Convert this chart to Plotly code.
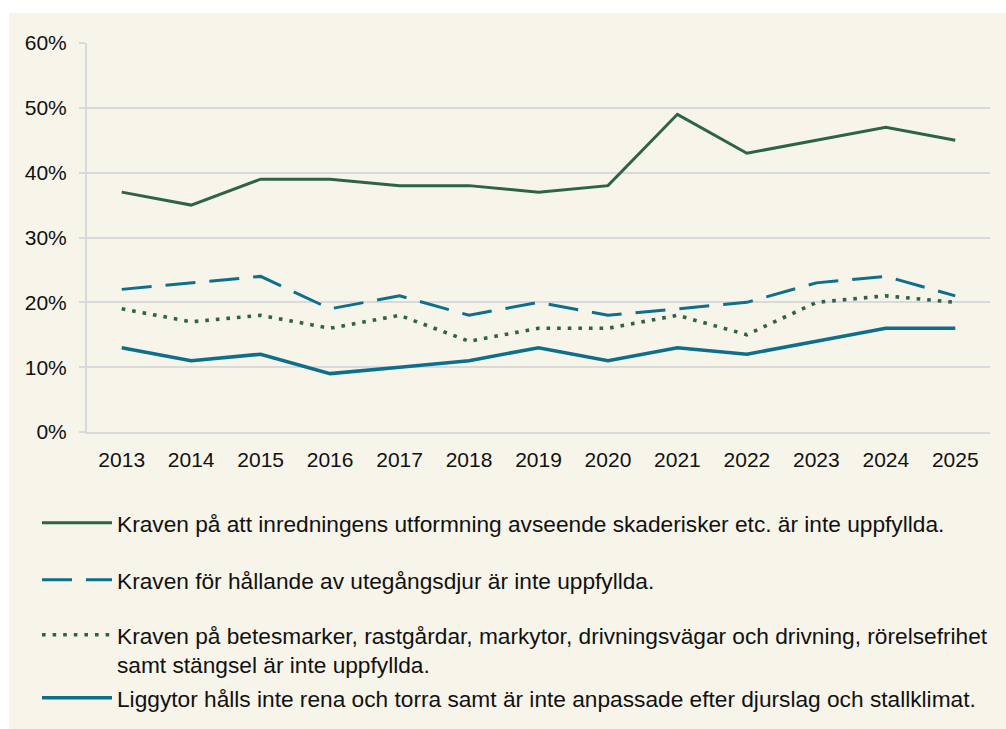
import plotly.graph_objects as go

# Share of inspected holdings (%) with each deficiency, per year
years = [str(y) for y in range(2013, 2026)]
inredning = [37, 35, 39, 39, 38, 38, 37, 38, 49, 43, 45, 47, 45]
utegang = [22, 23, 24, 19, 21, 18, 20, 18, 19, 20, 23, 24, 21]
betesmark = [19, 17, 18, 16, 18, 14, 16, 16, 18, 15, 20, 21, 20]
liggytor = [13, 11, 12, 9, 10, 11, 13, 11, 13, 12, 14, 16, 16]

series_names = [
    "Kraven på att inredningens utformning avseende skaderisker etc. är inte uppfyllda.",
    "Kraven för hållande av utegångsdjur är inte uppfyllda.",
    "Kraven på betesmarker, rastgårdar, markytor, drivningsvägar och drivning, rörelsefrihet<br>samt stängsel är inte uppfyllda.",
    "Liggytor hålls inte rena och torra samt är inte anpassade efter djurslag och stallklimat.",
]
y_tick_values = [0, 10, 20, 30, 40, 50, 60]
y_tick_labels = ["0%", "10%", "20%", "30%", "40%", "50%", "60%"]

GREEN = "#2e6249"
TEAL = "#0e6f8c"
BEIGE = "#f7f5ea"
GRID = "#d9d9d9"
TEXT = "#111111"
FONT = "Liberation Sans, Arial, sans-serif"

W, H = 1006, 729
L, R, T, B = 87, 16, 43, 296
PW, PH = W - L - R, H - T - B


def px_x(x):
    return (x - L) / PW


def px_y(y):
    return (H - B - y) / PH


styles = [
    dict(color=GREEN, width=3, dash="solid"),
    dict(color=TEAL, width=3, dash="30px,14px"),
    dict(color=GREEN, width=3.6, dash="3.6px,7px"),
    dict(color=TEAL, width=3.6, dash="solid"),
]
data = [inredning, utegang, betesmark, liggytor]
legend_ids = ["legend", "legend2", "legend3", "legend4"]
legend_centers = [523, 580, 650, 698]
legend_valign = ["middle", "middle", "top", "middle"]

fig = go.Figure()
for name, vals, st, lg in zip(series_names, data, styles, legend_ids):
    fig.add_trace(go.Scatter(
        x=years, y=vals, name=name, mode="lines",
        line=st, legend=lg,
    ))

legend_common = dict(
    xanchor="left", x=px_x(37), bgcolor="rgba(0,0,0,0)",
    font=dict(family=FONT, size=22.7, color=TEXT),
    itemwidth=70, borderwidth=0,
)
layout_legends = {}
for lg, cy, va in zip(legend_ids, legend_centers, legend_valign):
    layout_legends[lg] = dict(legend_common, yanchor="middle", y=px_y(cy), valign=va)

fig.update_layout(
    width=W, height=H,
    margin=dict(l=L, r=R, t=T, b=B),
    paper_bgcolor="white",
    plot_bgcolor="rgba(0,0,0,0)",
    font=dict(family=FONT, size=21, color=TEXT),
    showlegend=True,
    shapes=[dict(
        type="rect", xref="paper", yref="paper", layer="below",
        x0=px_x(9), x1=px_x(W + 5), y0=px_y(H + 5), y1=px_y(13),
        fillcolor=BEIGE, line=dict(width=0),
    )],
    xaxis=dict(
        type="category", range=[-0.5, len(years) - 0.5],
        showgrid=False, showline=True, linecolor=GRID, linewidth=2,
        ticks="", ticklabelstandoff=8, tickfont=dict(size=21, color=TEXT),
        zeroline=False,
    ),
    yaxis=dict(
        range=[0, 60], tickmode="array",
        tickvals=y_tick_values, ticktext=y_tick_labels,
        showgrid=True, gridcolor=GRID, gridwidth=2,
        showline=True, linecolor=GRID, linewidth=2,
        ticks="outside", ticklen=6, tickcolor=GRID, tickwidth=2,
        ticklabelstandoff=8, tickfont=dict(size=21, color=TEXT),
        zeroline=False,
    ),
    **layout_legends,
)

fig.write_html("out.html")
